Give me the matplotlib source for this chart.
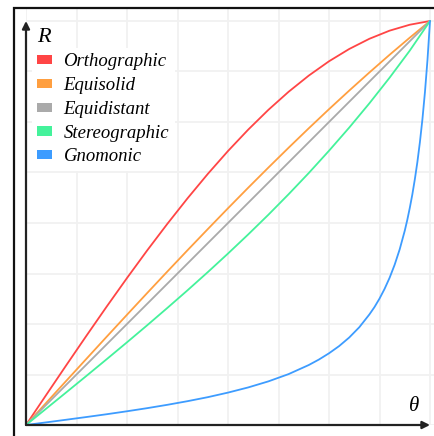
import matplotlib
matplotlib.use("Agg")
import matplotlib.pyplot as plt
from matplotlib.patches import Patch, Rectangle

# normalized field angle (theta) vs normalized image radius (R)
theta = [0.0, 0.05, 0.10, 0.15, 0.20, 0.25, 0.30, 0.35, 0.40, 0.45, 0.50,
         0.55, 0.60, 0.65, 0.70, 0.75, 0.80, 0.85, 0.90, 0.95, 1.0]

orthographic = [0.0, 0.0744, 0.1484, 0.2215, 0.2935, 0.3638, 0.4322, 0.4981, 0.5613, 0.6215, 0.6782,
                0.7311, 0.7801, 0.8248, 0.8649, 0.9003, 0.9307, 0.9560, 0.9761, 0.9908, 1.0]
equisolid = [0.0, 0.0549, 0.1097, 0.1643, 0.2188, 0.2729, 0.3267, 0.3800, 0.4328, 0.4849, 0.5365,
             0.5873, 0.6372, 0.6863, 0.7345, 0.7817, 0.8277, 0.8726, 0.9164, 0.9588, 1.0]
equidistant = [0.0, 0.05, 0.10, 0.15, 0.20, 0.25, 0.30, 0.35, 0.40, 0.45, 0.50,
               0.55, 0.60, 0.65, 0.70, 0.75, 0.80, 0.85, 0.90, 0.95, 1.0]
stereographic = [0.0, 0.0405, 0.0811, 0.1219, 0.1631, 0.2047, 0.2469, 0.2899, 0.3336, 0.3784, 0.4244,
                 0.4717, 0.5205, 0.5712, 0.6238, 0.6788, 0.7361, 0.7963, 0.8597, 0.9268, 1.0]

theta_gn = [0.0, 0.05, 0.10, 0.15, 0.20, 0.25, 0.30, 0.35, 0.40, 0.45, 0.50,
            0.55, 0.60, 0.65, 0.70, 0.725, 0.75, 0.775, 0.80, 0.825, 0.85, 0.8625, 0.875, 0.8875,
            0.90, 0.9125, 0.925, 0.9375, 0.94375, 0.95, 0.95625, 0.9625, 0.96875, 0.975,
            0.98125, 0.9875, 0.99375, 1.0]
gnomonic = [0.0, 0.0065, 0.0131, 0.0198, 0.0267, 0.0340, 0.0417, 0.0500, 0.0590, 0.0689, 0.0802,
            0.0930, 0.1080, 0.1260, 0.1485, 0.1620, 0.1775, 0.1953, 0.2165, 0.2420, 0.2737, 0.2918,
            0.3128, 0.3368, 0.3644, 0.3967, 0.4349, 0.4808, 0.5075, 0.5375, 0.5705, 0.6084,
            0.6508, 0.7000, 0.7569, 0.8240, 0.9034, 1.0]

labels = ["Orthographic", "Equisolid", "Equidistant", "Stereographic", "Gnomonic"]
colors = ["#ff4545", "#ff9f40", "#aaaaaa", "#44f29b", "#3d9cff"]

W, H = 434, 436
fig = plt.figure(figsize=(W / 100, H / 100), dpi=100)

# outer frame (runs off the right and bottom edges)
fig.patches.append(Rectangle((14 / W, -0.1), 1.2, (H - 8) / H + 0.1, transform=fig.transFigure,
                             fill=False, edgecolor="#111111", linewidth=1.6, zorder=0))

ax = fig.add_axes([26 / W, 11 / H, 408 / W, 417 / H])
ax.set_xlim(0, 408 / 404)
ax.set_ylim(0, 417 / 404)
ax.patch.set_alpha(0)

grid = [i / 8 for i in range(9)]
for g in grid:
    ax.axvline(g, color="#f1f1f1", lw=1.3, zorder=0)
    ax.axhline(g, color="#f1f1f1", lw=1.3, zorder=0)

series = [(theta, orthographic), (theta, equisolid), (theta, equidistant),
          (theta, stereographic), (theta_gn, gnomonic)]
for (x, y), c in zip(series, colors):
    ax.plot(x, y, color=c, lw=1.3, zorder=3, solid_capstyle="round", solid_joinstyle="round")

for s in ax.spines.values():
    s.set_visible(False)
ax.set_xticks([])
ax.set_yticks([])

arrow = dict(arrowstyle="-|>", color="#222222", lw=1.6, mutation_scale=11, shrinkA=0, shrinkB=0)
ax.annotate("", xy=(1.0, 0), xytext=(0, 0), arrowprops=arrow, zorder=5)
ax.annotate("", xy=(0, 1.0), xytext=(0, 0), arrowprops=arrow, zorder=5)

serif = ["Liberation Serif", "DejaVu Serif"]
ax.text(0.045, 0.96, "R", fontsize=16, style="italic", family=serif, ha="center", va="center")
ax.text(0.96, 0.047, "θ", fontsize=15, style="italic", family=serif, ha="center", va="center")

handles = [Patch(facecolor=c, edgecolor="none") for c in colors]
leg = ax.legend(handles, labels, loc="upper left", bbox_to_anchor=(0.0, 0.918),
                prop={"family": serif, "style": "italic", "size": 13.5},
                frameon=True, framealpha=1, facecolor="white", edgecolor="none", fancybox=False,
                handlelength=0.8, handleheight=0.4, handletextpad=0.6, labelspacing=0.36,
                borderpad=0.3, borderaxespad=0.3)
leg.set_zorder(4)

fig.savefig("out.png", dpi=100)
